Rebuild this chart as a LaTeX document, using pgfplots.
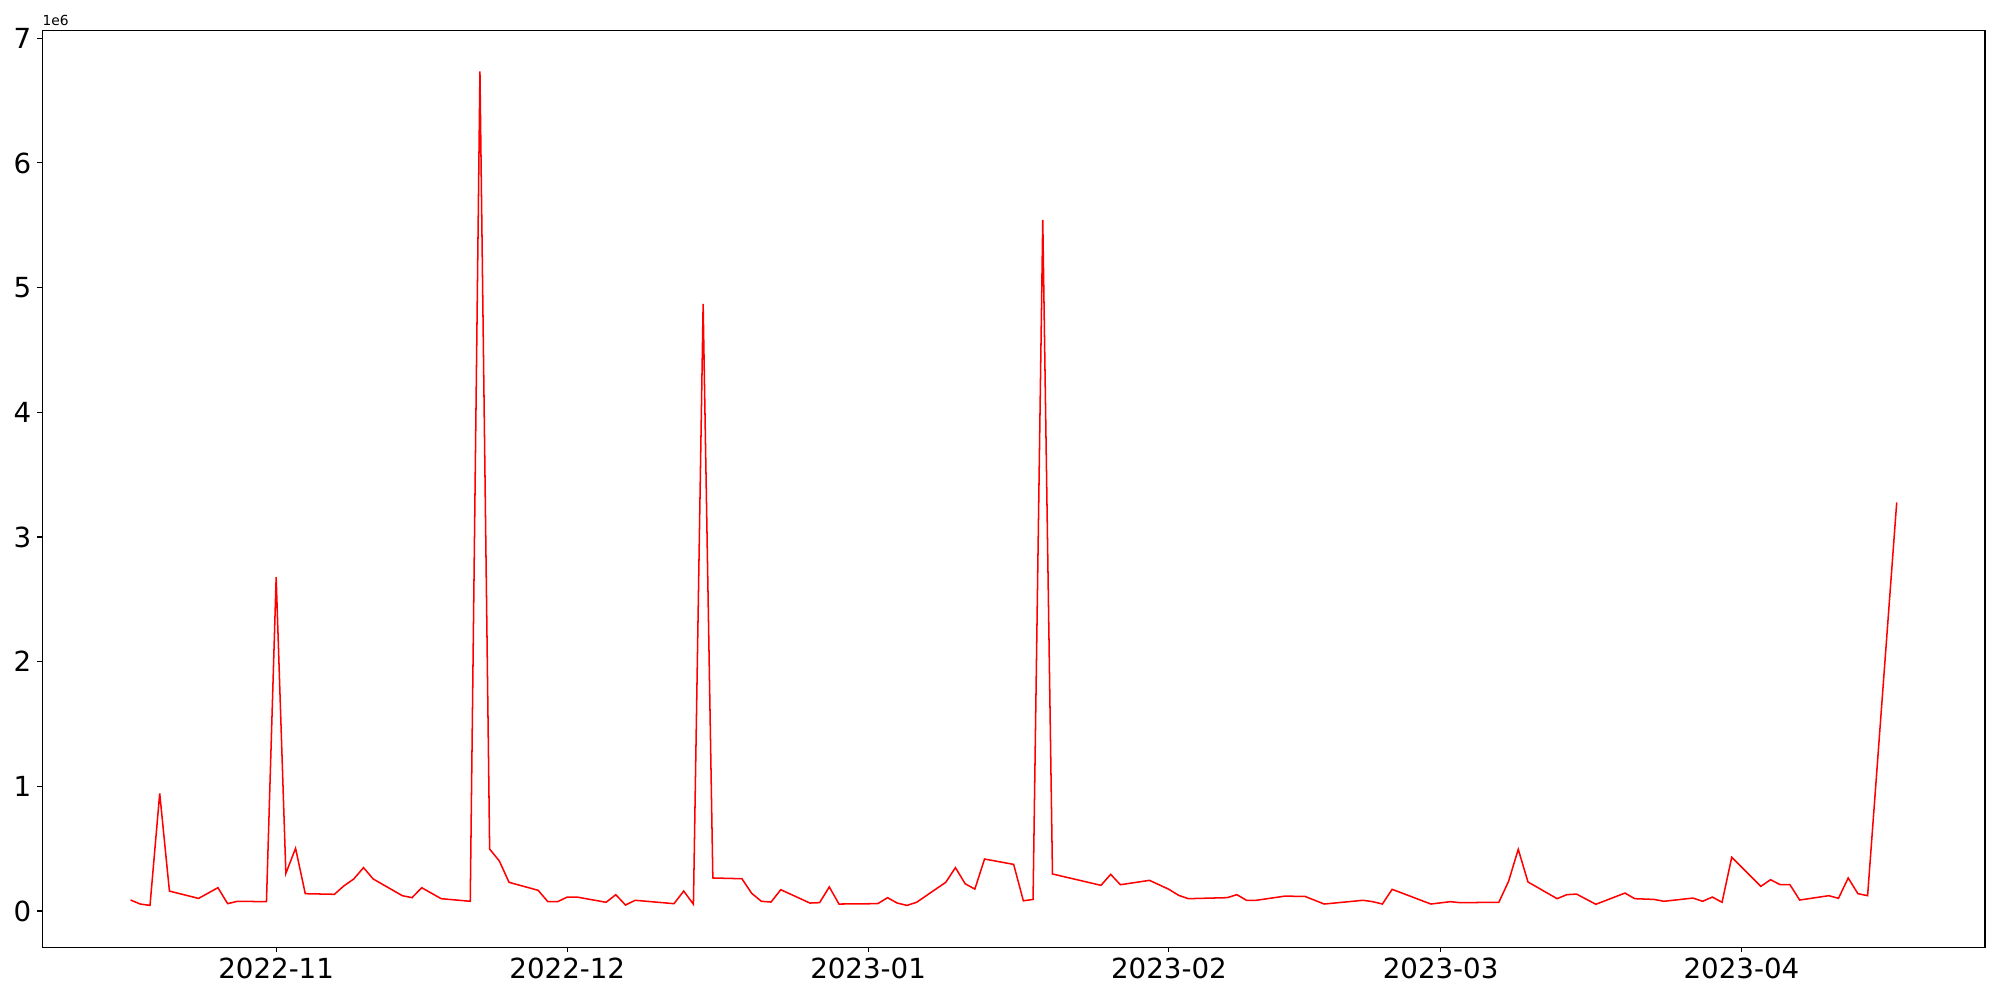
\documentclass[border=0pt]{standalone}
\usepackage{fontspec}
\setmainfont{DejaVu Sans}
\usepackage{pgfplots}
\pgfplotsset{compat=1.18}
% x = days since 2022-11-01, y = value in units of 1e6
\begin{document}
\begin{tikzpicture}
\begin{axis}[
  name=ax,
  at={(0,0)}, anchor=south west,
  scale only axis,
  width=19.427in, height=9.17in,
  xmin=-24.1, xmax=176.1,
  ymin=-0.291, ymax=7.064,
  xtick={0,30,61,92,120,151},
  xticklabels={2022-11,2022-12,2023-01,2023-02,2023-03,2023-04},
  ytick={0,1,2,3,4,5,6,7},
  xtick pos=bottom, ytick pos=left,
  tick align=outside,
  major tick length=3.5pt,
  every tick/.style={black, line width=0.8pt},
  axis line style={line width=0.8pt},
  tick label style={font=\fontsize{20}{24}\selectfont},
  /pgf/number format/assume math mode=true,
  xticklabel style={yshift=-1pt},
  yticklabel style={xshift=-1pt},
  clip=true,
]
\addplot[red, line width=1.1pt] coordinates {
(-15,0.088) (-14,0.056) (-13,0.045) (-12,0.944) (-11,0.160) (-8,0.101)
(-6,0.187) (-5,0.059) (-4,0.078) (-1,0.075) (0,2.677) (1,0.302)
(2,0.503) (3,0.139) (6,0.134) (7,0.203) (8,0.257) (9,0.348)
(10,0.257) (13,0.123) (14,0.107) (15,0.187) (17,0.099) (20,0.078)
(21,6.735) (22,0.497) (23,0.401) (24,0.230) (27,0.166) (28,0.075)
(29,0.075) (30,0.112) (31,0.112) (34,0.070) (35,0.131) (36,0.048)
(37,0.086) (41,0.059) (42,0.160) (43,0.054) (44,4.869) (45,0.265)
(48,0.259) (49,0.142) (50,0.078) (51,0.072) (52,0.171) (55,0.064)
(56,0.067) (57,0.193) (58,0.056) (62,0.059) (63,0.107) (64,0.064)
(65,0.045) (66,0.070) (69,0.230) (70,0.348) (71,0.219) (72,0.176)
(73,0.417) (76,0.374) (77,0.082) (78,0.093) (79,5.543) (80,0.297)
(85,0.206) (86,0.294) (87,0.211) (90,0.246) (92,0.174) (93,0.126)
(94,0.099) (98,0.107) (99,0.131) (100,0.086) (101,0.086) (104,0.120)
(105,0.118) (106,0.118) (108,0.056) (112,0.086) (113,0.075) (114,0.056)
(115,0.174) (119,0.056) (121,0.075) (122,0.067) (126,0.070) (127,0.238)
(128,0.495) (129,0.233) (132,0.099) (133,0.131) (134,0.136) (136,0.054)
(139,0.144) (140,0.099) (142,0.093) (143,0.078) (146,0.104) (147,0.078)
(148,0.112) (149,0.070) (150,0.431) (153,0.198) (154,0.251) (155,0.211)
(156,0.211) (157,0.088) (160,0.123) (161,0.102) (162,0.265) (163,0.139)
(164,0.123) (167,3.277)
};
\end{axis}
\node[anchor=south west, inner sep=0pt, yshift=3pt, font=\fontsize{10}{12}\selectfont] at (ax.north west) {1e6};
\path[use as bounding box] (-0.423in,-0.527in) rectangle (19.577in,9.473in);
\end{tikzpicture}
\end{document}
